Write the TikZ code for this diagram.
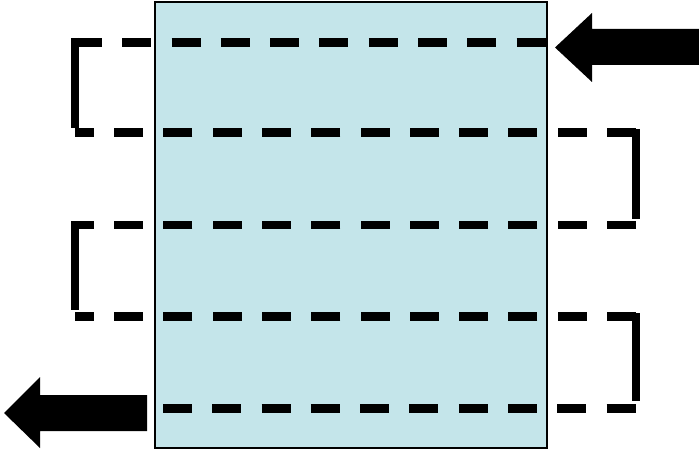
\documentclass[tikz,border=0pt]{standalone}
\usepackage{xcolor}
\usepackage{tikz}
\usetikzlibrary{arrows.meta,positioning}

\definecolor{panelblue}{RGB}{196,229,234}

\begin{document}
\begin{tikzpicture}[
  x=0.02cm,
  y=-0.02cm,
  panel/.style={fill=panelblue, draw=black, line width=0.8pt},
  pass/.style={black, line width=0.18cm, dash pattern=on 0.58cm off 0.406cm},
  turn/.style={black, line width=0.16cm},
  bigarrow/.style={fill=black, draw=none}
]
  \useasboundingbox (0,0) rectangle (699,449);

  \draw[panel] (155,2) rectangle (547,448);

  % horizontal passes, start to end
  \foreach \y/\xa/\xb in {42.5/73/547, 133/636/75, 225/636/75, 316.5/636/75, 408/163/636} {
    \draw[pass] (\xa,\y) -- (\xb,\y);
  }

  % turns
  \draw[turn] (75,38) -- (75,128);
  \draw[turn] (636,129) -- (636,219);
  \draw[turn] (75,221) -- (75,310);
  \draw[turn] (636,313) -- (636,401);

  % inlet and outlet arrows
  \fill[bigarrow] (555,47.5) -- (592,13) -- (592,29) -- (699,29)
    -- (699,65) -- (592,65) -- (592,82) -- cycle;
  \fill[bigarrow] (4,413) -- (40,377) -- (40,395) -- (147,395)
    -- (147,431) -- (40,431) -- (40,448) -- cycle;
\end{tikzpicture}
\end{document}
